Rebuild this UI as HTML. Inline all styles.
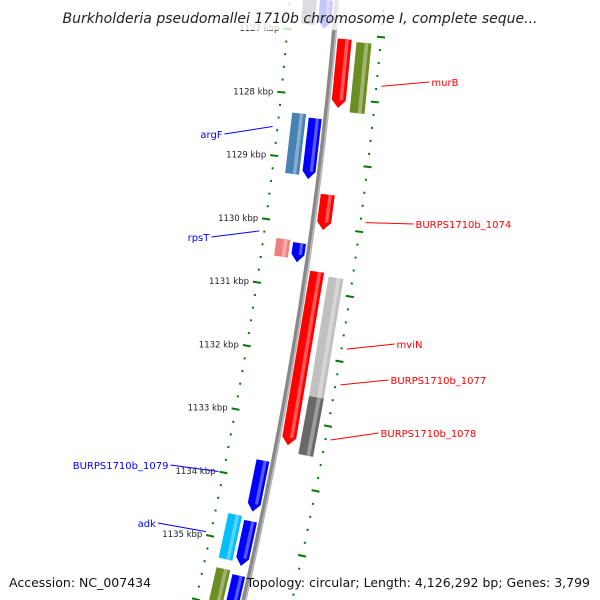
<!DOCTYPE html>
<html><head><meta charset="utf-8"><style>
html,body{margin:0;padding:0;background:#fff;}
svg{display:block;font-family:"DejaVu Sans","Liberation Sans",sans-serif;}
</style></head><body>
<svg id="map" width="600" height="600" viewBox="0 0 600 600" xmlns="http://www.w3.org/2000/svg">
<defs>
<linearGradient id="bb" x1="0" x2="1" y1="0" y2="0"><stop offset="0" stop-color="#555"/><stop offset="0.5" stop-color="#999"/><stop offset="1" stop-color="#bbb"/></linearGradient>
</defs>
<g id="layer"></g>
<rect x="0" y="0" width="600" height="30" fill="#fff" opacity="0.78"/>
<text x="300" y="23" text-anchor="middle" font-size="14" font-style="italic" fill="#222">Burkholderia pseudomallei 1710b chromosome I, complete seque...</text>
<text x="9" y="587" font-size="12.5" fill="#111">Accession: NC_007434</text>
<text x="590" y="587" text-anchor="end" font-size="12.5" fill="#111">Topology: circular; Length: 4,126,292 bp; Genes: 3,799</text>
</svg>
<script>
const kbpTicks=[1127,1128,1129,1130,1131,1132,1133,1134,1135];
const featStart=[1126.5,1126.5,1127.08,1127.11,1128.3,1128.35,1129.5,1130.27,1130.3,1130.7,1130.75,1132.6,1133.7,1134.6,1134.65,1135.45,1135.5];
const featEnd=[1126.9,1126.95,1128.15,1128.2,1129.25,1129.3,1130.05,1130.55,1130.6,1133.4,1132.6,1133.5,1134.5,1135.3,1135.35,1136.1,1136.1];
const featStrand=[0,1,-1,0,0,1,-1,0,1,-1,0,0,1,0,1,0,1];
const featLane=[-2,-1,1,2,-2,-1,1,-2,-1,1,2,2,-1,-2,-1,-2,-1];
const featColor=["#666","#0000ff","#ff0000","#6b8e23","#4682b4","#0000ff","#ff0000","#f08080","#0000ff","#ff0000","#c0c0c0","#696969","#0000ff","#00bfff","#0000ff","#6b8e23","#0000ff"];
const labelText=["murB","BURPS1710b_1074","mviN","BURPS1710b_1077","BURPS1710b_1078","argF","rpsT","BURPS1710b_1079","adk"];
const labelKbp=[1127.75,1129.85,1131.8,1132.35,1133.2,1128.55,1130.2,1134.0,1134.95];
const labelSide=[1,1,1,1,1,-1,-1,-1,-1];
const labelY=[82,224,344,380,433,134,237,465,523];

const ns="http://www.w3.org/2000/svg";
const layer=document.getElementById('layer');
function yOf(k){return 33+(k-1127)*64.1;}
function xb(y){return 337-0.08*y-0.000125*y*y;}
function pt(k,o){const y=yOf(k);const s=-0.08-0.00025*y;const n=Math.hypot(s,1);return [xb(y)+o/n, y+o*(-s)/n];}
function mk(tag,attrs){const e=document.createElementNS(ns,tag);for(const a in attrs)e.setAttribute(a,attrs[a]);layer.appendChild(e);return e;}
function lighten(c,f){const v=parseInt(c.slice(1),16);let r=v>>16,g=(v>>8)&255,b=v&255;r=Math.round(r+(255-r)*f);g=Math.round(g+(255-g)*f);b=Math.round(b+(255-b)*f);return `rgb(${r},${g},${b})`;}

// backbone
let d="";for(let y=-5;y<=605;y+=5){d+=(y<0?"M":"L")+xb(y).toFixed(1)+","+y;}
const bb=mk('path',{d:d,stroke:'#888',"stroke-width":5,fill:'none'});

const bb2=mk('path',{d:d,stroke:'#bbb',"stroke-width":1.5,fill:'none',transform:'translate(1.5,0)'});


// ruler dots and ticks
for(let i=-5;i<=50;i++){
  const k=1126+i*0.2;const major=Math.abs(k-Math.round(k))<0.01;
  [-47,47].forEach(o=>{
    const a=pt(k,o-(major?4:1)),b=pt(k,o+(major?4:1));
    const t=mk('line',{x1:a[0],y1:a[1],x2:b[0],y2:b[1],stroke:'#007a00',"stroke-width":2});
    
    
  });
}
kbpTicks.forEach(k=>{const p=pt(k,-55);const t=mk('text',{x:p[0],y:p[1]+3,"text-anchor":"end","font-size":8.5,fill:'#222'});t.textContent=k+" kbp";
});

// features
const laneOff={"-2":[-34,-20],"-1":[-17,-4],"1":[4,18],"2":[23,38]};
featStart.forEach((s,i)=>{
  const e=featEnd[i],[o1,o2]=laneOff[featLane[i]],st=featStrand[i],c=featColor[i],ah=0.12;
  let pts;
  if(st===1){pts=[pt(e-ah,o1),pt(e,(o1+o2)/2),pt(e-ah,o2),pt(s,o2),pt(s,o1)];}
  else if(st===-1){pts=[pt(s,o1),pt(s,o2),pt(e-ah,o2),pt(e,(o1+o2)/2),pt(e-ah,o1)];pts=[pt(e,o1),pt(e,o2),pt(s+ah,o2),pt(s,(o1+o2)/2),pt(s+ah,o1)];pts=[pt(s,o1),pt(s,o2),pt(e-ah,o2),pt(e,(o1+o2)/2),pt(e-ah,o1)];}
  else {pts=[pt(s,o1),pt(s,o2),pt(e,o2),pt(e,o1)];}
  const p=mk('polygon',{points:pts.map(q=>q.join(',')).join(' '),fill:c});
  
  const w=o2-o1,h1=o1+w*0.55,h2=o1+w*0.8,e2=st!==0?e-ah:e;
  const hl=mk('polygon',{points:[pt(s,h1),pt(s,h2),pt(e2,h2),pt(e2,h1)].map(q=>q.join(',')).join(' '),fill:lighten(c,0.35)});
  
});

// labels
labelText.forEach((t,i)=>{
  const side=labelSide[i],col=side>0?'#ff0000':'#0000ff';
  const a=pt(labelKbp[i],side>0?52:-52);
  const tx=side>0?a[0]+48:a[0]-48;
  const l=mk('line',{x1:a[0],y1:a[1],x2:tx,y2:labelY[i],stroke:col,"stroke-width":1});
  
  const el=mk('text',{x:side>0?tx+2:tx-2,y:labelY[i]+4,"text-anchor":side>0?"start":"end","font-size":10,fill:col});
  el.textContent=t;
  
});
</script>
</body></html>
